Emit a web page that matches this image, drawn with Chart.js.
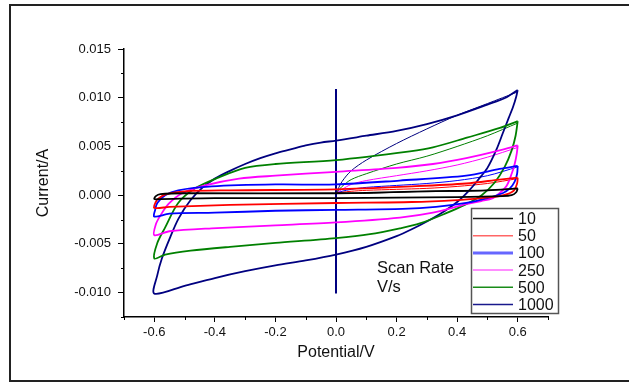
<!DOCTYPE html>
<html><head><meta charset="utf-8">
<script src="https://cdn.jsdelivr.net/npm/chart.js@4.4.1/dist/chart.umd.min.js"></script>
<style>html,body{margin:0;padding:0;background:#fff;overflow:hidden}#wrap{width:629px;height:383px;position:relative}</style>
</head><body><div id="wrap"><canvas id="c" width="629" height="383"></canvas></div>
<script>
// ---- data ----
const scanRates = ['10', '50', '100', '250', '500', '1000'];

const xTicks = [-0.6, -0.4, -0.2, 0.0, 0.2, 0.4, 0.6];
const yTicks = [-0.010, -0.005, 0.000, 0.005, 0.010, 0.015];
const xMinorTicks = [-0.7, -0.5, -0.3, -0.1, 0.1, 0.3, 0.5, 0.7];
const yMinorTicks = [-0.0125, -0.0075, -0.0025, 0.0025, 0.0075, 0.0125];

// closed loops: start at +0.6, cathodic sweep to -0.6, anodic sweep back to +0.6
const loopPotential10 = [0.6, 0.595, 0.58, 0.55, 0.4, 0.0, -0.4, -0.58, -0.6, -0.595, -0.58, -0.5, 0.0, 0.3, 0.5, 0.6];
const loopCurrent10   = [0.0007, 0.0003, 0.0000, -0.0001, -0.0002, -0.0003, -0.0003, -0.0004, -0.0004, -0.0001, 0.0001, 0.0002, 0.0002, 0.0004, 0.0005, 0.0007];

const loopPotential50 = [0.6, 0.598, 0.588, 0.565, 0.54, 0.48, 0.4, 0.25, 0.0, -0.35, -0.55, -0.6, -0.595, -0.585, -0.56, -0.5, -0.35, 0.0, 0.25, 0.43, 0.54, 0.6];
const loopCurrent50   = [0.0018, 0.0012, 0.0005, 0.0001, -0.0001, -0.0003, -0.0005, -0.0007, -0.0008, -0.0010, -0.0012, -0.0013, -0.0007, -0.0003, 0.0001, 0.0004, 0.0005, 0.0006, 0.0009, 0.0012, 0.0016, 0.0018];

const loopPotential100 = [0.6, 0.598, 0.59, 0.574, 0.55, 0.5, 0.43, 0.33, 0.22, 0.0, -0.2, -0.4, -0.55, -0.6, -0.597, -0.59, -0.564, -0.521, -0.41, -0.2, 0.0, 0.21, 0.43, 0.54, 0.6];
const loopCurrent100   = [0.0030, 0.0022, 0.0014, 0.0007, 0.0002, -0.0003, -0.0008, -0.0012, -0.0014, -0.0015, -0.0016, -0.0018, -0.0019, -0.0022, -0.0015, -0.0008, 0.0000, 0.0005, 0.0009, 0.0011, 0.0011, 0.0015, 0.0020, 0.0027, 0.0030];

const loopPotential250 = [0.6, 0.597, 0.59, 0.58, 0.564, 0.54, 0.518, 0.48, 0.432, 0.32, 0.211, 0.0, -0.2, -0.41, -0.55, -0.6, -0.595, -0.58, -0.553, -0.508, -0.432, -0.32, -0.2, 0.0, 0.2, 0.32, 0.43, 0.54, 0.6];
const loopCurrent250   = [0.0051, 0.0043, 0.0032, 0.0022, 0.0010, 0.0002, -0.0003, -0.0006, -0.0009, -0.0018, -0.0023, -0.0028, -0.0031, -0.0034, -0.0037, -0.0041, -0.0030, -0.0021, -0.0009, 0.0002, 0.0010, 0.0017, 0.0020, 0.0024, 0.0028, 0.0032, 0.0038, 0.0046, 0.0051];

const loopPotential500 = [0.6, 0.593, 0.58, 0.557, 0.524, 0.481, 0.425, 0.36, 0.277, 0.211, 0.112, 0.0, -0.2, -0.35, -0.48, -0.564, -0.6, -0.59, -0.564, -0.521, -0.465, -0.389, -0.3, -0.2, 0.0, 0.244, 0.32, 0.432, 0.541, 0.6];
const loopCurrent500   = [0.0076, 0.0061, 0.0046, 0.0029, 0.0013, 0.0000, -0.0010, -0.0019, -0.0029, -0.0034, -0.0040, -0.0044, -0.0049, -0.0053, -0.0057, -0.0061, -0.0065, -0.0049, -0.0033, -0.0008, 0.0007, 0.0018, 0.0028, 0.0032, 0.0036, 0.0045, 0.0049, 0.0059, 0.0069, 0.0076];

const loopPotential1000 = [0.6, 0.595, 0.585, 0.57, 0.55, 0.53, 0.5, 0.47, 0.44, 0.4, 0.35, 0.3, 0.25, 0.2, 0.1, 0.0, -0.1, -0.2, -0.3, -0.4, -0.5, -0.6,
                           -0.59, -0.575, -0.55, -0.52, -0.48, -0.44, -0.4, -0.35, -0.3, -0.25, -0.2, -0.15, -0.1, -0.05, 0.0, 0.1, 0.2, 0.3, 0.4, 0.5, 0.56, 0.6];
const loopCurrent1000   = [0.0108, 0.0101, 0.0091, 0.0079, 0.0063, 0.0047, 0.0028, 0.0016, 0.0005, -0.0007, -0.0018, -0.0027, -0.0035, -0.0042, -0.0053, -0.0061, -0.0067, -0.0072, -0.0078, -0.0085, -0.0093, -0.0101,
                           -0.0082, -0.0065, -0.0045, -0.0024, -0.0005, 0.0008, 0.0017, 0.0025, 0.0032, 0.0038, 0.0043, 0.0047, 0.0051, 0.0054, 0.0056, 0.0061, 0.0066, 0.0073, 0.0082, 0.0093, 0.0100, 0.0108];

// first (start-up) sweep from 0 V to +0.6 V
const initPotential = [0.0, 0.02, 0.05, 0.1, 0.2, 0.3, 0.4, 0.5, 0.6];
const initCurrent10   = [0.0002, 0.0002, 0.0002, 0.0002, 0.0003, 0.0004, 0.0004, 0.0005, 0.0007];
const initCurrent50   = [0.0002, 0.0003, 0.0004, 0.0005, 0.0006, 0.0007, 0.0009, 0.0012, 0.0017];
const initCurrent100  = [0.0002, 0.0004, 0.0006, 0.0008, 0.0010, 0.0012, 0.0015, 0.0020, 0.0029];
const initCurrent250  = [0.0002, 0.0006, 0.0011, 0.0015, 0.0020, 0.0025, 0.0031, 0.0039, 0.0049];
const initCurrent500  = [0.0002, 0.0009, 0.0016, 0.0022, 0.0032, 0.0040, 0.0050, 0.0061, 0.0074];
const initCurrent1000 = [0.0002, 0.0014, 0.0025, 0.0036, 0.0053, 0.0068, 0.0082, 0.0094, 0.0106];

// vertical marker line at 0 V
const markerPotential = [0.0, 0.0];
const markerCurrent = [-0.0101, 0.0109];

// ---- build ----
const colors = ['#000000', '#FF0000', '#0000FF', '#FF00FF', '#008000', '#000080'];
const loopsP = [loopPotential10, loopPotential50, loopPotential100, loopPotential250, loopPotential500, loopPotential1000];
const loopsI = [loopCurrent10, loopCurrent50, loopCurrent100, loopCurrent250, loopCurrent500, loopCurrent1000];
const initsI = [initCurrent10, initCurrent50, initCurrent100, initCurrent250, initCurrent500, initCurrent1000];
const zip = (xs, ys) => xs.map((x, i) => ({x: x, y: ys[i]}));

const datasets = [];
scanRates.forEach((r, k) => {
  datasets.push({label: r, data: zip(loopsP[k], loopsI[k]), borderColor: colors[k], borderWidth: 1.8, showLine: true, pointRadius: 0, tension: 0.3, fill: false});
});
scanRates.forEach((r, k) => {
  datasets.push({label: '_init' + r, data: zip(initPotential, initsI[k]), borderColor: colors[k], borderWidth: 1, showLine: true, pointRadius: 0, tension: 0.3, fill: false});
});
datasets.push({label: '_marker', data: zip(markerPotential, markerCurrent), borderColor: '#000080', borderWidth: 2, showLine: true, pointRadius: 0, fill: false});

const FONT = "'Liberation Sans', Arial, sans-serif";

const decor = {
  id: 'decor',
  afterDraw(chart) {
    const ctx = chart.ctx;
    const xs = chart.scales.x, ys = chart.scales.y, ca = chart.chartArea;
    ctx.save();
    // minor ticks
    ctx.strokeStyle = '#000'; ctx.lineWidth = 1;
    ctx.beginPath();
    xMinorTicks.forEach(v => { const p = Math.round(xs.getPixelForValue(v)) + 0.5; ctx.moveTo(p, ca.bottom); ctx.lineTo(p, ca.bottom + 3); });
    yMinorTicks.forEach(v => { const p = Math.round(ys.getPixelForValue(v)) + 0.5; ctx.moveTo(ca.left - 3, p); ctx.lineTo(ca.left, p); });
    ctx.stroke();
    // annotation text
    ctx.fillStyle = '#111';
    ctx.font = '16.5px ' + FONT;
    ctx.textAlign = 'left'; ctx.textBaseline = 'alphabetic';
    ctx.fillText('Scan Rate', 377, 273);
    ctx.fillText('V/s', 377, 292);
    // legend box
    ctx.fillStyle = '#fff';
    ctx.fillRect(471, 208, 88, 106);
    ctx.strokeStyle = '#555'; ctx.lineWidth = 1.5;
    ctx.strokeRect(471.5, 208.5, 87, 105);
    ctx.font = '16px ' + FONT;
    ctx.textBaseline = 'middle';
    scanRates.forEach((r, k) => {
      const y = 218.5 + k * 17.2;
      ctx.strokeStyle = colors[k];
      ctx.globalAlpha = (k === 1 || k === 2 || k === 3) ? 0.6 : 0.9;
      ctx.lineWidth = k === 2 ? 3 : 1.5;
      ctx.beginPath(); ctx.moveTo(473, y); ctx.lineTo(513, y); ctx.stroke();
      ctx.globalAlpha = 1;
      ctx.fillStyle = '#111';
      ctx.fillText(r, 518, y + 1);
    });
    // outer frame
    ctx.strokeStyle = '#222'; ctx.lineWidth = 2;
    ctx.strokeRect(10, 5, 640, 376);
    ctx.restore();
  }
};

new Chart(document.getElementById('c'), {
  type: 'scatter',
  data: {datasets: datasets},
  options: {
    responsive: false, animation: false, devicePixelRatio: 1,
    layout: {padding: {left: 0, top: 49, right: 81, bottom: 0}},
    plugins: {legend: {display: false}, tooltip: {enabled: false}},
    scales: {
      x: {
        type: 'linear', position: 'bottom', min: -0.7, max: 0.7,
        afterBuildTicks: s => { s.ticks = xTicks.map(v => ({value: v})); },
        afterFit: s => { s.height = 66; },
        grid: {drawOnChartArea: false, drawTicks: true, tickLength: 5, tickColor: '#000', tickWidth: 1},
        border: {color: '#000', width: 1.5},
        ticks: {font: {family: FONT, size: 13}, color: '#111', padding: 3, maxRotation: 0, autoSkip: false, callback: v => v.toFixed(1)},
        title: {display: true, text: 'Potential/V', color: '#111', font: {family: FONT, size: 16}, padding: {top: 0, bottom: 21}}
      },
      y: {
        type: 'linear', position: 'left', min: -0.0125, max: 0.015,
        afterBuildTicks: s => { s.ticks = yTicks.map(v => ({value: v})); },
        afterFit: s => { s.width = 124; },
        grid: {drawOnChartArea: false, drawTicks: true, tickLength: 6, tickColor: '#000', tickWidth: 1},
        border: {color: '#000', width: 1.5},
        ticks: {font: {family: FONT, size: 13}, color: '#111', padding: 7, autoSkip: false, callback: v => v.toFixed(3)},
        title: {display: true, text: 'Current/A', color: '#111', font: {family: FONT, size: 16}, padding: {top: 34, bottom: 0}}
      }
    }
  },
  plugins: [decor]
});
</script></body></html>
